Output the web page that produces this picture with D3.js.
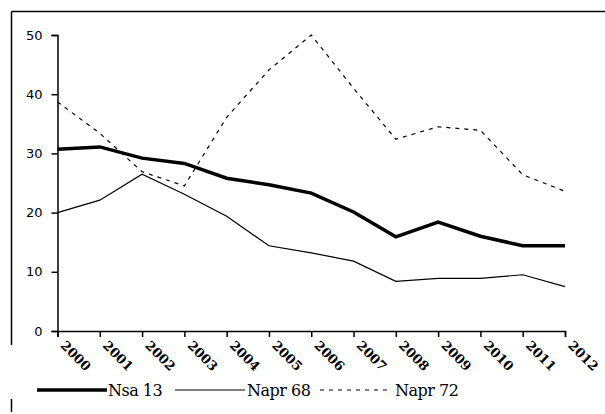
<!DOCTYPE html>
<html>
<head>
<meta charset="utf-8">
<script src="https://cdn.jsdelivr.net/npm/d3@7"></script>
<style>
  body { margin: 0; background: #fff; }
  svg { display: block; }
</style>
</head>
<body>
<svg id="chart" width="605" height="414"></svg>
<script>
// DATA

var years = ["2000", "2001", "2002", "2003", "2004", "2005", "2006",
             "2007", "2008", "2009", "2010", "2011", "2012"];
var nsa13  = [30.7, 31.1, 29.2, 28.3, 25.8, 24.7, 23.3, 20.1, 15.9, 18.4, 16.0, 14.4, 14.4];
var napr68 = [20.0, 22.1, 26.5, 23.1, 19.4, 14.4, 13.2, 11.8, 8.4, 8.9, 8.9, 9.5, 7.5];
var napr72 = [38.7, 33.4, 26.9, 24.5, 36.1, 44.1, 50.0, 41.0, 32.4, 34.5, 33.9, 26.4, 23.6];
var yTicks = [0, 10, 20, 30, 40, 50];

var series = [
  { name: "Nsa 13",  values: nsa13,  width: 3.5, dash: null },
  { name: "Napr 68", values: napr68, width: 1.2, dash: null },
  { name: "Napr 72", values: napr72, width: 1.2, dash: "4,5" }
];

var serifFont = "'DejaVu Serif', serif";

// CHART

var svg = d3.select("#chart");

// frame
svg.append("line").attr("x1", 11.5).attr("x2", 605).attr("y1", 11.5).attr("y2", 11.5)
   .attr("stroke", "#000").attr("stroke-width", 1.5);
svg.append("line").attr("x1", 11.5).attr("x2", 11.5).attr("y1", 11.5).attr("y2", 345)
   .attr("stroke", "#000").attr("stroke-width", 1.5);
svg.append("line").attr("x1", 11.5).attr("x2", 11.5).attr("y1", 399).attr("y2", 412)
   .attr("stroke", "#000").attr("stroke-width", 1.5);

var x = d3.scalePoint().domain(years).range([57.5, 565]);
var y = d3.scaleLinear().domain([0, 50]).range([331, 35]);

var yAxis = svg.append("g")
    .attr("transform", "translate(57.5,0)")
    .call(d3.axisLeft(y).tickValues(yTicks).tickSize(6).tickPadding(9).tickFormat(d3.format("d")));
yAxis.selectAll("text")
    .style("font-family", "'DejaVu Sans', sans-serif")
    .style("font-size", "13px")
    .attr("fill", "#000");

var xAxis = svg.append("g")
    .attr("transform", "translate(0,331)")
    .call(d3.axisBottom(x).tickSize(6).tickPadding(0));
xAxis.selectAll("text")
    .style("font-family", serifFont)
    .style("font-size", "13px")
    .style("font-weight", "bold")
    .attr("fill", "#000")
    .attr("text-anchor", "start")
    .attr("dy", null)
    .attr("transform", "translate(6,11) rotate(45)");

svg.selectAll(".domain, .tick line")
    .attr("stroke", "#000").attr("stroke-width", 1.5);

var line = d3.line()
    .x(function(d, i) { return x(years[i]); })
    .y(function(d) { return y(d); });

svg.selectAll(".series")
    .data(series)
  .enter().append("path")
    .attr("class", "series")
    .attr("fill", "none")
    .attr("stroke", "#000")
    .attr("stroke-width", function(d) { return d.width; })
    .attr("stroke-dasharray", function(d) { return d.dash; })
    .attr("d", function(d) { return line(d.values); });

// LEGEND

var legendItems = [
  { x1: 37,  x2: 107, tx: 108 },
  { x1: 175, x2: 245, tx: 247 },
  { x1: 320, x2: 390, tx: 395 }
];

var legend = svg.selectAll(".legend")
    .data(series)
  .enter().append("g")
    .attr("class", "legend");

legend.append("line")
    .attr("x1", function(d, i) { return legendItems[i].x1; })
    .attr("x2", function(d, i) { return legendItems[i].x2; })
    .attr("y1", 390).attr("y2", 390)
    .attr("stroke", "#000")
    .attr("stroke-width", function(d) { return d.width; })
    .attr("stroke-dasharray", function(d) { return d.dash; });

legend.append("text")
    .attr("x", function(d, i) { return legendItems[i].tx; })
    .attr("y", 396)
    .style("font-family", serifFont)
    .style("font-size", "16px")
    .style("letter-spacing", "-0.5px")
    .attr("fill", "#000")
    .text(function(d) { return d.name; });
</script>
</body>
</html>
